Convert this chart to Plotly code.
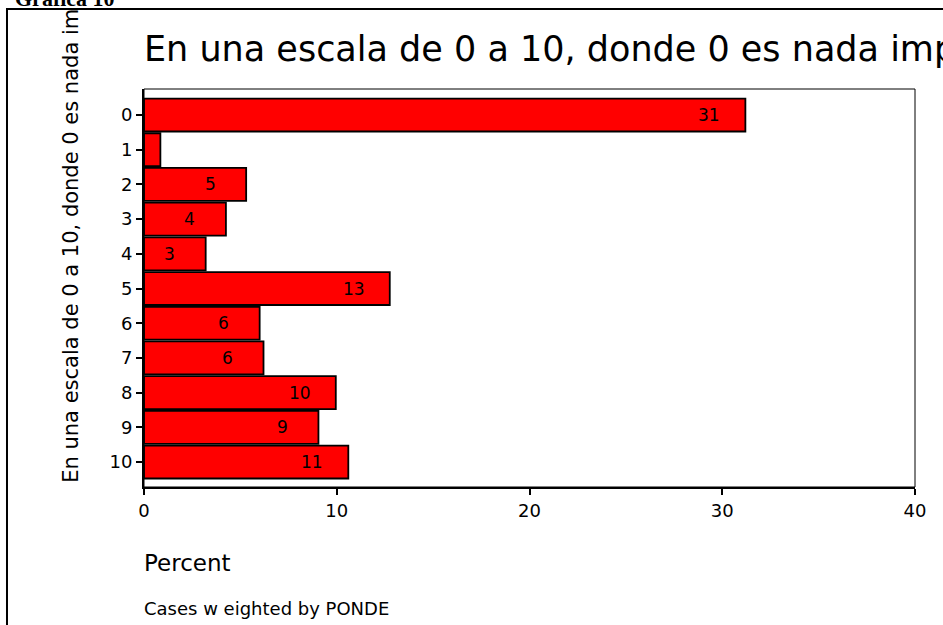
"""Bar chart: importance scale 0-10, percent of cases."""

import plotly.graph_objects as go

# Data
categories = [0, 1, 2, 3, 4, 5, 6, 7, 8, 9, 10]
percent = [31.2, 0.85, 5.3, 4.25, 3.2, 12.75, 6.0, 6.2, 9.95, 9.05, 10.6]
bar_labels = ["31", "", "5", "4", "3", "13", "6", "6", "10", "9", "11"]
x_ticks = [0, 10, 20, 30, 40]

TITLE = "En una escala de 0 a 10, donde 0 es nada importante"
Y_TITLE = "En una escala de 0 a 10, donde 0 es nada im"
FONT = "DejaVu Sans, Arial, sans-serif"

fig = go.Figure()

fig.add_trace(
    go.Bar(
        x=percent,
        y=categories,
        orientation="h",
        width=0.95,
        marker=dict(color="#ff0000", line=dict(color="black", width=1.8)),
        hoverinfo="skip",
        showlegend=False,
    )
)

# value labels, placed inside near the bar end
for cat, val, lab in zip(categories, percent, bar_labels):
    if not lab:
        continue
    fig.add_annotation(
        x=val,
        y=cat,
        text=lab,
        showarrow=False,
        xanchor="center",
        xshift=-36,
        font=dict(family=FONT, size=17, color="black"),
    )

# chart title (cut off at the right edge like the source)
fig.add_annotation(
    x=-0.003, y=1.1, xref="paper", yref="paper",
    text=TITLE, showarrow=False, xanchor="left", yanchor="middle",
    font=dict(family=FONT, size=35, color="black"),
)

# rotated y title
fig.add_annotation(
    x=-0.095, y=0.005, xref="paper", yref="paper",
    text=Y_TITLE, showarrow=False, textangle=-90,
    xanchor="center", yanchor="bottom",
    font=dict(family=FONT, size=21, color="black"),
)

# x title and footnote
fig.add_annotation(
    x=-0.003, y=-0.19, xref="paper", yref="paper",
    text="Percent", showarrow=False, xanchor="left", yanchor="middle",
    font=dict(family=FONT, size=23, color="black"),
)
fig.add_annotation(
    x=-0.003, y=-0.305, xref="paper", yref="paper",
    text="Cases w eighted by PONDE", showarrow=False, xanchor="left",
    yanchor="middle", font=dict(family=FONT, size=18, color="black"),
)

# "Gráfica 10" heading, mostly above the page edge
fig.add_annotation(
    x=-0.17, y=1.228, xref="paper", yref="paper",
    text="<b>Gráfica 10</b>", showarrow=False, xanchor="left",
    yanchor="middle",
    font=dict(family="Liberation Serif, Times New Roman, serif", size=22,
              color="black"),
)

# outer frame, runs off right and bottom
fig.add_shape(
    type="rect", xref="paper", yref="paper",
    x0=-0.1777, y0=-0.5, x1=1.2, y1=1.201,
    line=dict(color="black", width=2), fillcolor="rgba(0,0,0,0)",
)
# plot box
fig.add_shape(
    type="rect", xref="paper", yref="paper",
    x0=0, y0=0, x1=1, y1=1,
    line=dict(color="black", width=1), fillcolor="rgba(0,0,0,0)",
)

fig.update_layout(
    width=943,
    height=625,
    margin=dict(l=144, r=28, t=89, b=138),
    plot_bgcolor="white",
    paper_bgcolor="white",
    font=dict(family=FONT, size=18, color="black"),
    bargap=0.05,
    xaxis=dict(
        range=[0, 40],
        tickvals=x_ticks,
        showgrid=False,
        zeroline=False,
        showline=True,
        linecolor="black",
        linewidth=2,
        ticks="outside",
        ticklen=6,
        tickwidth=1.5,
        tickcolor="black",
        tickfont=dict(family=FONT, size=18),
    ),
    yaxis=dict(
        range=[10.72, -0.75],
        tickvals=categories,
        showgrid=False,
        zeroline=False,
        showline=True,
        linecolor="black",
        linewidth=2,
        ticks="outside",
        ticklen=6,
        tickwidth=1.5,
        tickcolor="black",
        tickfont=dict(family=FONT, size=18),
    ),
)

# drop the default 8px body margin so the figure sits at the page corner
fig.write_html(
    "out.html",
    config={"displayModeBar": False},
    post_script="document.body.style.margin = '0';",
)
